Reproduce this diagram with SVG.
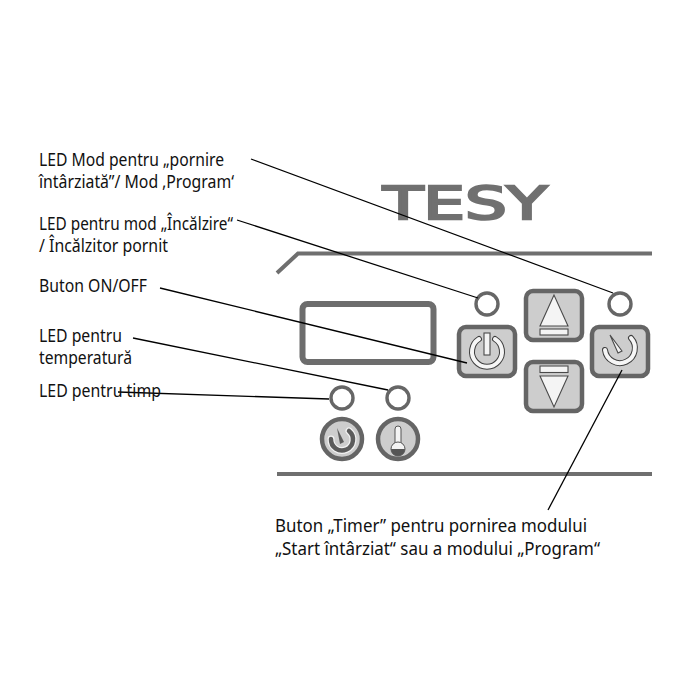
<svg xmlns="http://www.w3.org/2000/svg" width="700" height="700" viewBox="0 0 700 700">
<style>
text{font-family:"Noto Sans","Open Sans","Liberation Sans",sans-serif;font-size:17.500px;fill:#111}
.logo{font-family:"DejaVu Sans",sans-serif;font-size:45px;fill:#707070;stroke:#707070;stroke-width:2.400}
.rail{fill:none;stroke:#6f6f6f;stroke-width:4}
.led{fill:#fff;stroke:#666;stroke-width:3.4}
.btn{fill:#cdcdcd;stroke:#656565;stroke-width:4.500}
.glyph{fill:#f4f4f4;stroke:#4a4a4a;stroke-width:1.1}
.ringd{fill:none;stroke:#3f3f3f;stroke-width:6;stroke-linecap:round}
.ringw{fill:none;stroke:#f6f6f6;stroke-width:4;stroke-linecap:round}
.conn{fill:none;stroke:#000;stroke-width:1.3}
</style>
<rect width="700" height="700" fill="#fff"/>
<g id="logo"><text class="logo" x="383" y="218.500" textLength="164" lengthAdjust="spacingAndGlyphs">TESY</text></g>
<g id="panel">
<path class="rail" d="M277 273L298 253.500H652"/>
<path class="rail" d="M277 474H652"/>
</g>
<g id="display"><rect x="302.500" y="304" width="131" height="58" rx="5" fill="#fff" stroke="#6d6d6d" stroke-width="6"/></g>
<g id="led-timer-mode"><circle class="led" cx="620" cy="304" r="11"/></g>
<g id="led-heating"><circle class="led" cx="487" cy="304" r="11"/></g>
<g id="led-time"><circle class="led" cx="342" cy="398" r="11"/></g>
<g id="led-temp"><circle class="led" cx="398" cy="398" r="11"/></g>
<g id="btn-power">
<rect class="btn" x="459" y="327" width="56" height="49" rx="7"/>
<path class="ringd" d="M479 339A15 15 0 1 0 495 339"/>
<path class="ringw" d="M479 339A15 15 0 1 0 495 339"/>
<rect class="glyph" x="484" y="333" width="6" height="22"/>
</g>
<g id="btn-up">
<rect class="btn" x="526" y="291" width="56" height="49" rx="7"/>
<path class="glyph" d="M554 295L540 326H568Z"/>
<rect class="glyph" x="540" y="329" width="28" height="6"/>
</g>
<g id="btn-down">
<rect class="btn" x="526" y="362" width="56" height="49" rx="7"/>
<rect class="glyph" x="540" y="366" width="28" height="6.500"/>
<path class="glyph" d="M540 376H568L554 407Z"/>
</g>
<g id="btn-timer">
<rect class="btn" x="592" y="327" width="56" height="49" rx="7"/>
<path class="ringd" d="M605 350A15 15 0 1 0 631 338"/>
<path class="ringw" d="M605 350A15 15 0 1 0 631 338"/>
<path class="glyph" d="M610 335L622 351L618 353Z"/>
</g>
<g id="btn-time">
<circle class="btn" cx="342" cy="439" r="20"/>
<path d="M331 439A11 11 0 1 0 349 431" fill="none" stroke="#f2f2f2" stroke-width="7" stroke-linecap="round"/>
<path d="M331 439A11 11 0 1 0 349 431" fill="none" stroke="#5c5c5c" stroke-width="4.500" stroke-linecap="round"/>
<path d="M337 428L344 442L340 444Z" fill="#5c5c5c"/>
</g>
<g id="btn-temp">
<circle class="btn" cx="398" cy="439" r="20"/>
<rect x="395" y="426" width="6" height="20" rx="3" fill="#f4f4f4" stroke="#555" stroke-width="1"/>
<circle cx="398" cy="449" r="7" fill="#f4f4f4" stroke="#555" stroke-width="1"/>
<path d="M391 449H405A7 7 0 0 1 391 449Z" fill="#555"/>
</g>
<g id="connectors">
<path class="conn" d="M251 159L613 293"/>
<path class="conn" d="M237 220L478 298"/>
<path class="conn" d="M160 288L467 363"/>
<path class="conn" d="M133 338L388 390"/>
<path class="conn" d="M118 392L329 399"/>
<path class="conn" d="M622 370L548 510"/>
</g>
<g id="labels">
<text x="39" y="165.500" textLength="185" lengthAdjust="spacingAndGlyphs">LED Mod pentru „pornire</text>
<text x="39" y="187.500" textLength="195" lengthAdjust="spacingAndGlyphs">întârziată”/ Mod ‚Program‘</text>
<text x="39" y="230" textLength="194" lengthAdjust="spacingAndGlyphs">LED pentru mod „Încălzire“</text>
<text x="39" y="252" textLength="129" lengthAdjust="spacingAndGlyphs">/ Încălzitor pornit</text>
<text x="39" y="292" textLength="108" lengthAdjust="spacingAndGlyphs">Buton ON/OFF</text>
<text x="39" y="342" textLength="83" lengthAdjust="spacingAndGlyphs">LED pentru</text>
<text x="39" y="364" textLength="93" lengthAdjust="spacingAndGlyphs">temperatură</text>
<text x="39" y="397" textLength="122" lengthAdjust="spacingAndGlyphs">LED pentru timp</text>
<text x="275" y="532" textLength="312" lengthAdjust="spacingAndGlyphs">Buton „Timer” pentru pornirea modului</text>
<text x="275" y="555" textLength="325" lengthAdjust="spacingAndGlyphs">„Start întârziat“ sau a modului „Program“</text>
</g>
</svg>
